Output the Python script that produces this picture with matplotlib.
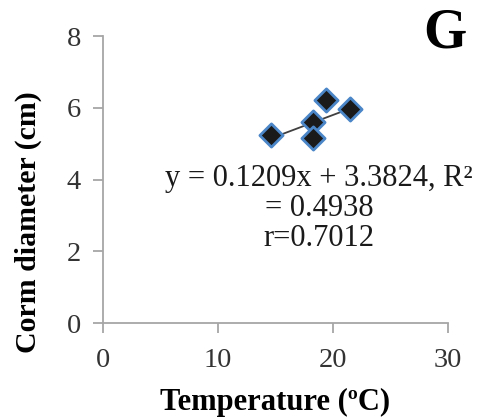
import matplotlib
matplotlib.use("Agg")
import matplotlib.pyplot as plt
import numpy as np

# Temperature (°C) vs corm diameter (cm)
temperature = [14.6, 18.3, 18.3, 19.4, 21.5]
corm_diameter = [5.24, 5.61, 5.17, 6.23, 5.96]

slope = 0.1209
intercept = 3.3824
r_squared = 0.4938
r_value = 0.7012

x_ticks = [0, 10, 20, 30]
y_ticks = [0, 2, 4, 6, 8]

plt.rcParams['font.family'] = ['Liberation Serif', 'DejaVu Serif']

fig = plt.figure(figsize=(4.78, 4.19), dpi=100)
ax = fig.add_axes([0.2155, 0.229, 0.7218, 0.685])

axis_grey = '#a6a6a6'

# trend line over the observed range
xs = np.array([min(temperature), max(temperature)])
ax.plot(xs, slope * xs + intercept, color='#404040', lw=1.3, zorder=2)

ax.scatter(temperature, corm_diameter, marker='D', s=140,
           facecolor='#1a1a1a', edgecolor='#4a86c8', linewidth=2.0, zorder=3)

ax.set_xlim(0, 30)
ax.set_ylim(0, 8)
ax.set_xticks(x_ticks)
ax.set_yticks(y_ticks)

for side in ('top', 'right'):
    ax.spines[side].set_visible(False)
for side in ('left', 'bottom'):
    ax.spines[side].set_color(axis_grey)
    ax.spines[side].set_linewidth(1.3)

ax.tick_params(axis='both', direction='out', length=7, width=1.3, color=axis_grey,
               labelsize=20.5, labelcolor='#333333')
ax.tick_params(axis='x', pad=11)
ax.tick_params(axis='y', pad=9)

fig.text(275 / 478, 1 - 410 / 419, 'Temperature (ºC)', fontsize=22,
         fontweight='bold', ha='center', va='baseline')
fig.text(28 / 478, 1 - 222 / 419, 'Corm diameter (cm)', fontsize=21.5,
         fontweight='bold', ha='center', va='center', rotation=90)

eq = f'y = {slope}x + {intercept}, R²\n= {r_squared}\nr={r_value}'
ax.text(18.8, 3.2, eq, fontsize=22, ha='center', va='center',
        linespacing=1.05, color='#1a1a1a')

fig.text(445 / 478, 1 - 34 / 419, 'G', fontsize=40, fontweight='bold',
         ha='center', va='center')

fig.savefig('out.png', dpi=100)
